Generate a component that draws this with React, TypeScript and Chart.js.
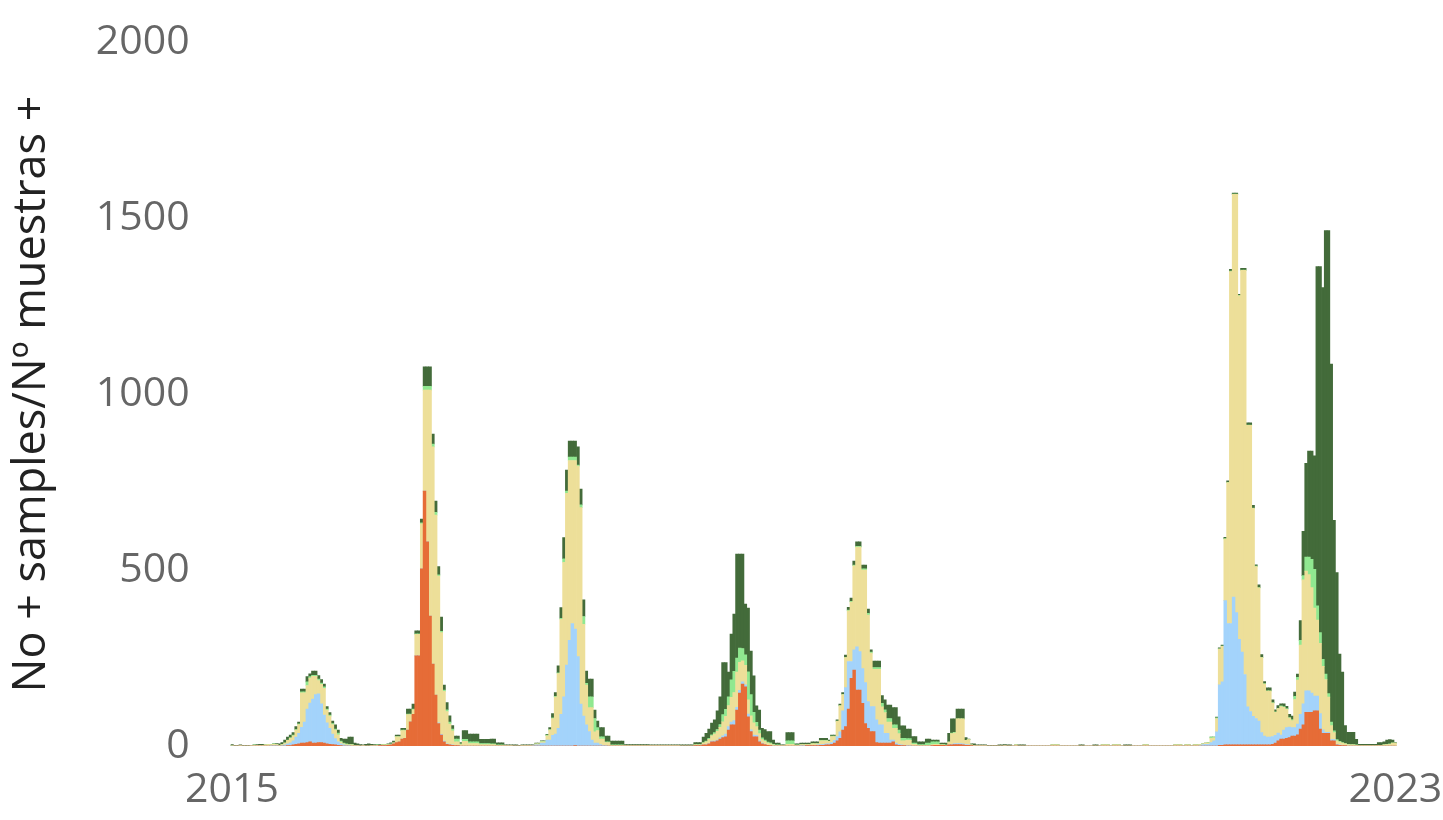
import React, { useEffect, useRef } from 'react';
import { Chart, registerables } from 'chart.js';

Chart.register(...registerables);

const WEEK_COUNT = 418;
const X_TICK_POSITIONS = [0, 417];
const X_TICK_TEXT = ['2015', '2023'];
const Y_MAX = 2000;
const Y_STEP = 500;
const Y_TITLE = 'No + samples/Nº muestras +';

const SERIES_NAMES = ['Serie 1', 'Serie 2', 'Serie 3', 'Serie 4', 'Serie 5'];
const SERIES_COLORS = ['#E66C37', '#A3D3FB', '#EDDF99', '#90E890', '#436B3A'];

// each row: [red, blue, yellow, light green, dark green]
const SEASON_2015_START = 0;
const SEASON_2015 = [
  [0,0,0,2,2],[0,0,0,0,2],[0,0,0,0,2],[0,0,1,0,2],[0,0,0,0,2],[0,0,0,0,2],[0,0,0,0,2],[0,0,1,0,1],
  [0,0,2,1,0],[0,0,2,0,2],[0,0,2,0,3],[0,0,2,0,3],[0,0,3,0,0],[0,0,4,1,0],[0,1,3,0,0],[0,1,4,1,0],
  [0,1,3,1,2],[0,0,1,1,4],[0,1,3,1,5],[0,3,5,1,8],[1,5,10,1,8],[1,8,13,2,7],[3,12,14,2,7],[5,20,20,2,8],
  [6,30,25,2,5],[8,45,98,3,8],[8,60,83,3,8],[10,95,67,10,15],[12,110,71,4,8],[8,125,65,3,12],[8,138,52,3,12],
  [10,138,38,4,10],[10,110,55,4,10],[8,80,76,4,8],[6,60,36,3,7],[5,45,35,3,7],[4,30,27,3,7],[3,18,24,3,12],
  [2,10,20,5,8],[1,5,5,3,8],[0,3,3,2,12],[0,1,3,2,14],[0,1,2,2,20],[0,0,3,2,20],[0,0,1,1,6],[0,0,1,1,4],
  [0,0,0,0,4],[0,0,1,0,2],[0,0,0,0,5],[0,0,0,0,6],[0,0,1,0,4],[0,0,1,1,2],[0,0,2,1,1],
];

const SEASON_2016_START = 53;
const SEASON_2016 = [
  [1,0,1,0,2],[1,1,1,1,1],[1,1,1,1,1],[2,0,1,1,2],[3,0,2,1,3],[6,0,3,0,5],[10,0,16,1,4],[12,0,14,1,4],
  [20,0,24,1,5],[22,0,22,1,5],[45,0,44,2,14],[69,0,20,2,14],[90,0,13,2,14],[256,0,61,2,8],[256,0,61,2,8],
  [503,0,128,3,11],[724,0,287,11,55],[580,0,431,11,55],[369,0,642,11,55],[233,0,617,8,28],[145,0,511,8,32],
  [64,2,417,3,24],[31,2,289,4,40],[12,2,141,4,14],[5,1,92,5,20],[3,1,58,6,18],[2,1,40,5,10],[1,0,11,8,8],
  [1,0,11,8,8],[0,0,4,2,4],[0,0,13,6,25],[0,0,13,6,25],[0,0,7,5,22],[0,0,7,5,22],[0,0,7,5,22],[0,0,7,5,22],
  [0,0,4,3,12],[0,0,4,3,12],[0,0,4,3,12],[0,0,4,3,12],[0,0,4,2,14],[0,0,4,2,14],[0,0,2,1,6],[0,0,2,1,6],
  [0,0,2,1,6],[0,0,1,0,2],[0,0,1,0,2],[0,0,1,0,2],
];

const SEASON_2017_START = 101;
const SEASON_2017 = [
  [0,0,0,0,3],[0,0,0,0,3],[0,0,0,0,2],[0,0,1,0,2],[0,0,1,0,2],[0,0,1,0,2],[0,0,1,0,2],[0,1,1,0,1],
  [0,3,3,0,2],[0,3,3,0,2],[0,8,4,1,2],[0,8,4,1,2],[0,17,12,2,2],[0,17,28,2,5],[0,30,48,2,12],[0,34,105,2,11],
  [0,50,156,2,20],[0,90,270,3,30],[0,140,382,10,60],[0,230,488,6,60],[0,300,511,10,45],[0,348,463,10,45],
  [1,331,479,10,45],[0,254,541,3,52],[0,119,558,8,45],[0,85,261,22,47],[0,60,113,5,35],[0,41,68,31,50],
  [0,17,92,31,50],[0,8,32,38,24],[0,8,36,8,19],[0,4,16,6,26],[0,2,18,6,26],[0,1,9,2,16],[0,0,10,2,16],
  [0,0,2,1,11],[0,0,2,1,11],[0,0,2,1,11],[0,0,2,1,11],[0,0,2,1,11],
  [0,0,1,0,3],[0,0,1,0,3],[0,0,1,0,3],[0,0,1,0,3],[0,0,1,0,3],[0,0,1,0,3],[0,0,1,0,3],[0,0,1,0,3],[0,0,1,0,3],
  [0,0,1,0,2],[0,0,1,0,2],[0,0,1,0,2],[0,0,1,0,2],[0,0,1,0,2],[0,0,1,0,2],[0,0,1,0,2],[0,0,1,0,2],[0,0,1,0,2],
  [0,0,1,0,2],[0,0,1,0,2],
];

const SEASON_2018_START = 161;
const SEASON_2018 = [
  [0,0,0,0,3],[0,0,0,0,3],[0,0,0,0,3],[0,0,0,0,3],[0,0,0,0,3],[1,0,2,1,6],[1,0,2,1,6],[1,0,2,1,6],
  [3,0,5,2,15],[3,1,8,2,22],[6,1,12,3,26],[12,2,15,3,33],[12,2,20,4,36],[15,2,25,5,53],[20,3,30,8,79],
  [24,5,40,20,148],[26,8,50,20,133],[45,10,60,25,70],[60,8,70,50,130],[60,12,80,60,163],[102,8,100,40,295],
  [150,8,80,40,267],[176,6,60,35,268],[168,6,55,30,144],[83,8,40,80,181],[41,5,40,60,124],[26,5,35,30,103],
  [26,4,25,12,47],[12,3,20,10,57],[6,2,10,5,27],[4,1,8,4,30],[2,0,6,3,30],[1,0,5,3,32],[0,0,3,2,12],
  [0,0,2,1,5],[0,0,2,1,5],[0,0,1,0,2],[0,0,1,0,2],[0,0,5,10,23],[0,0,5,10,23],[0,0,5,10,23],[0,0,2,1,3],
  [0,0,2,1,3],
];

const SEASON_2019_START = 204;
const SEASON_2019 = [
  [0,1,3,0,4],[0,1,3,0,4],[1,1,2,0,4],[1,1,2,0,4],[1,1,4,1,5],[1,1,4,1,5],[1,2,3,1,5],[2,2,11,1,6],
  [2,3,10,1,6],[3,3,9,1,6],[3,3,7,1,3],[5,5,17,1,3],[8,8,11,1,3],[15,12,43,1,3],[22,18,74,1,4],[45,55,46,1,5],
  [55,111,85,1,6],[105,135,144,2,8],[192,48,169,2,9],[216,57,239,2,11],[159,123,283,2,13],[159,109,297,2,13],
  [121,99,280,3,11],[64,116,320,3,11],[50,76,246,5,12],[41,71,152,3,6],[41,71,106,5,18],[10,64,144,5,18],
  [8,52,158,5,18],[8,52,51,10,22],[8,28,59,8,28],[8,28,32,10,38],[8,9,51,10,38],[12,5,33,10,49],[3,5,42,10,49],
  [2,3,30,10,38],[1,2,12,7,35],[1,1,13,7,35],[0,1,15,5,27],[0,1,15,5,27],[0,0,5,3,19],[0,0,5,3,19],[0,0,2,2,8],
  [0,0,2,2,8],[0,0,2,2,8],[0,0,2,6,12],[0,0,2,6,12],[1,0,3,8,5],[2,0,3,7,5],[2,0,3,7,5],[2,0,1,1,4],[2,0,1,1,4],
  [1,0,1,1,5],[3,0,8,1,24],[3,2,30,2,40],[4,3,30,2,38],[4,3,70,0,28],[4,3,70,0,28],[3,3,71,0,28],[2,2,12,0,8],
  [2,1,15,0,2],[1,0,2,0,3],[0,0,2,0,4],[0,0,1,0,2],[0,0,1,0,2],[0,0,1,0,2],[0,0,1,0,2],
];

// sparse quiet period: [week, red, blue, yellow, light green, dark green]
const QUIET_WEEKS = [
  [271,0,0,0,0,2],[272,0,0,0,0,2],[273,0,0,0,0,2],[274,0,0,0,0,2],[275,0,0,0,0,3],[276,0,0,0,0,3],
  [277,0,0,1,0,3],[278,0,0,0,0,3],[279,0,0,0,0,3],[281,0,0,3,0,0],[282,0,0,0,0,3],[283,0,0,0,0,3],
  [284,0,0,0,0,3],[294,0,0,3,0,0],[295,0,0,3,0,0],[296,0,0,3,0,0],[304,0,0,0,0,3],[305,0,0,0,0,3],
  [309,0,0,0,0,3],[310,0,0,0,0,3],[312,0,0,3,0,0],[313,0,0,3,0,0],[314,0,0,3,0,0],[316,0,0,3,0,0],
  [317,0,0,3,0,0],[318,0,0,3,0,0],[320,0,0,0,0,3],[321,0,0,0,0,3],[322,0,0,0,0,3],[327,0,0,3,0,0],
  [328,0,0,3,0,0],[338,0,0,3,0,0],[339,0,0,3,0,0],[340,0,0,3,0,0],[342,0,0,3,0,0],[343,0,0,3,0,0],
  [345,0,0,3,0,0],[346,0,0,3,0,0],[347,0,1,3,0,0],
];

const SEASON_2022_START = 348;
const SEASON_2022 = [
  [0,4,2,0,0],[0,5,3,0,0],[0,5,3,2,0],[0,10,12,3,0],[0,15,8,2,0],[0,40,38,2,2],[2,172,101,1,3],[2,180,101,1,3],
  [3,410,175,1,4],[3,345,400,1,4],[3,345,1000,1,5],[3,420,1144,1,3],[3,376,1188,1,3],[3,300,976,1,3],
  [3,264,1084,1,5],[3,200,1148,1,5],[3,108,800,1,6],[3,95,813,1,6],[3,81,591,1,8],[3,75,432,1,4],[3,68,378,1,8],
  [3,35,213,1,8],[3,25,148,1,6],[3,22,131,1,8],[3,22,131,1,8],[5,22,95,1,8],[8,22,66,1,6],[15,22,69,1,8],
  [20,11,81,2,6],[20,25,65,2,8],[22,30,52,2,7],[24,30,25,2,9],[28,24,20,3,10],[28,24,80,9,12],[32,30,125,8,9],
  [48,42,197,13,56],[60,60,352,12,126],[96,61,340,40,266],[96,61,330,50,301],[96,54,300,80,308],
  [100,42,250,110,322],[100,42,216,40,964],[48,44,200,30,1040],[36,10,180,20,1056],[36,3,150,15,1260],
  [36,3,100,10,1315],[15,3,40,10,1017],[15,3,20,5,598],[3,2,10,3,475],[2,1,8,2,248],[1,1,6,2,200],[1,0,5,1,51],
  [0,0,4,1,34],[0,0,3,1,35],[0,0,3,1,35],[0,0,2,1,16],[0,0,1,0,4],[0,0,1,0,4],[0,0,1,0,4],[0,0,1,0,4],
  [0,0,1,0,4],[0,0,1,0,4],[0,0,1,0,4],[0,0,2,0,8],[0,0,2,0,8],[0,0,3,1,8],[0,0,4,1,12],[0,0,5,1,12],
  [0,0,8,1,8],[0,0,8,0,2],
];

function buildSeries(): number[][] {
  const series = SERIES_NAMES.map(() => new Array(WEEK_COUNT).fill(0));
  const place = (start: number, rows: number[][]) => {
    rows.forEach((row, k) => row.forEach((v, s) => { series[s][start + k] = v; }));
  };
  place(SEASON_2015_START, SEASON_2015);
  place(SEASON_2016_START, SEASON_2016);
  place(SEASON_2017_START, SEASON_2017);
  place(SEASON_2018_START, SEASON_2018);
  place(SEASON_2019_START, SEASON_2019);
  QUIET_WEEKS.forEach(([w, ...vals]) => vals.forEach((v, s) => { series[s][w] = v; }));
  place(SEASON_2022_START, SEASON_2022);
  return series;
}

const WEEK_LABELS = Array.from({ length: WEEK_COUNT }, (_, i) => `semana ${i + 1}`);

export default function App() {
  const canvasRef = useRef<HTMLCanvasElement | null>(null);

  useEffect(() => {
    const canvas = canvasRef.current;
    if (!canvas) return;
    Chart.defaults.font.family = "'Open Sans', sans-serif";
    const series = buildSeries();
    const chart = new Chart(canvas, {
      type: 'bar',
      data: {
        labels: WEEK_LABELS,
        datasets: SERIES_NAMES.map((name, s) => ({
          label: name,
          data: series[s],
          backgroundColor: SERIES_COLORS[s],
          borderWidth: 0,
          barPercentage: 1,
          categoryPercentage: 1,
        })),
      },
      options: {
        responsive: false,
        animation: false,
        layout: { padding: { top: 42, right: 46.2, bottom: 0, left: 0 } },
        plugins: { legend: { display: false }, tooltip: { enabled: false } },
        scales: {
          x: {
            stacked: true,
            grid: { display: false, drawTicks: false },
            border: { display: false },
            ticks: {
              autoSkip: false,
              maxRotation: 0,
              minRotation: 0,
              padding: 20,
              color: '#666666',
              font: { size: 41 },
              callback: (_v: any, index: number) => {
                const k = X_TICK_POSITIONS.indexOf(index);
                return k >= 0 ? X_TICK_TEXT[k] : null;
              },
            },
            afterFit: (scale: any) => {
              scale.height = 74;
              scale.paddingLeft = 0;
              scale.paddingRight = 0;
            },
          },
          y: {
            stacked: true,
            min: 0,
            max: Y_MAX,
            grid: { display: false, drawTicks: false },
            border: { display: false },
            ticks: {
              stepSize: Y_STEP,
              padding: 41,
              color: '#666666',
              font: { size: 41 },
              callback: (v: any) => String(v),
            },
            title: {
              display: true,
              text: Y_TITLE,
              color: '#222222',
              font: { size: 45 },
              padding: { top: 5, bottom: 0 },
            },
            afterFit: (scale: any) => {
              scale.width = 230.6;
              scale.paddingTop = 0;
              scale.paddingBottom = 0;
            },
          },
        },
      },
    });
    return () => chart.destroy();
  }, []);

  return (
    <div style={{ position: 'fixed', left: 0, top: 0, width: 1443, height: 820, background: '#ffffff' }}>
      <canvas ref={canvasRef} width={1443} height={820} style={{ display: 'block' }} />
    </div>
  );
}
